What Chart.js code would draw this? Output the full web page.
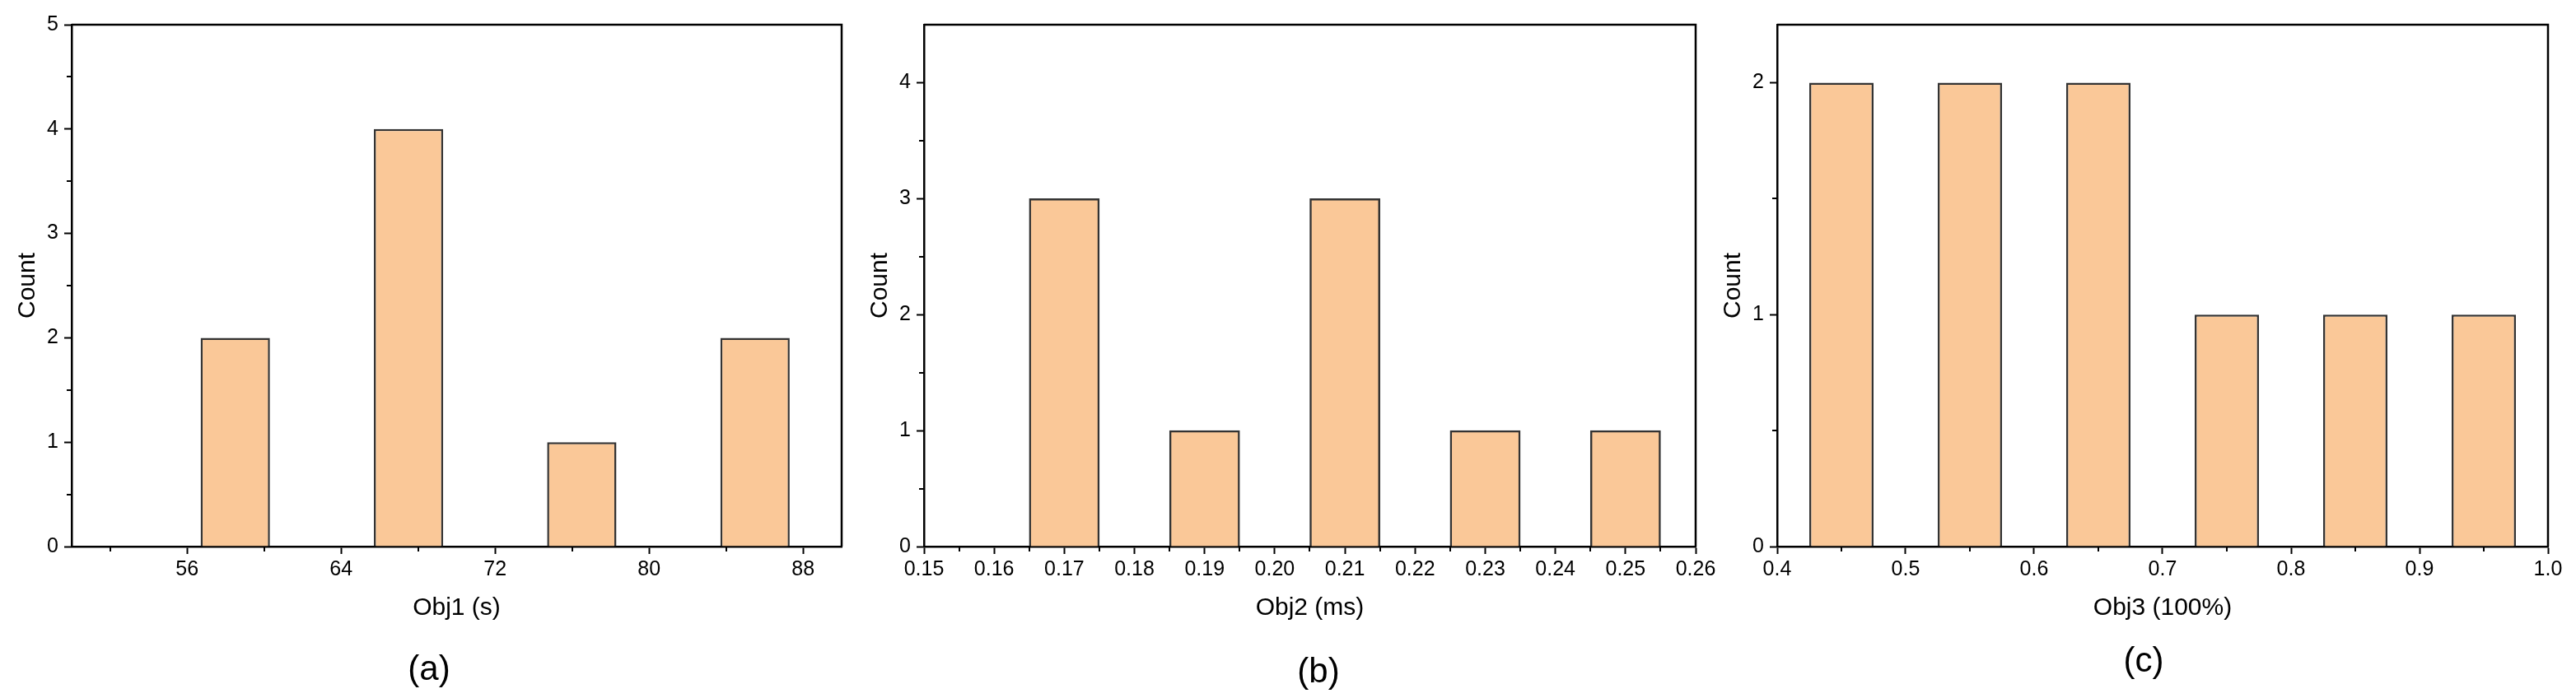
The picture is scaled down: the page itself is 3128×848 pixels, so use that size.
<!DOCTYPE html>
<html>
<head>
<meta charset="utf-8">
<script src="https://cdn.jsdelivr.net/npm/chart.js@4.4.1/dist/chart.umd.min.js"></script>
<style>
    body { margin: 0; background: #fff; width: 3128px; height: 848px; position: relative; overflow: hidden; font-family: "Liberation Sans", Arial, sans-serif; }
    .panel { position: absolute; top: 0; height: 848px; }
    .tag { position: absolute; font-size: 42px; color: #000; transform: translate(-50%, -50%); white-space: nowrap; }
</style>
</head>
<body>
<div class="panel" style="left:0px;width:1040px"><canvas id="chartA"></canvas></div>
<div class="panel" style="left:1035px;width:1064px"><canvas id="chartB"></canvas></div>
<div class="panel" style="left:2071px;width:1057px"><canvas id="chartC"></canvas></div>
<div class="tag" style="left:521px;top:812px">(a)</div>
<div class="tag" style="left:1601px;top:815px">(b)</div>
<div class="tag" style="left:2603px;top:802px">(c)</div>

<script>
// panel (a)
var binsA = [58.5, 67.5, 76.5, 85.5];
var countsA = [2, 4, 1, 2];
var xTicksA = [56, 64, 72, 80, 88];
var xLabelsA = ['56', '64', '72', '80', '88'];
var xMinorA = [52, 60, 68, 76, 84];
var yTicksA = [0, 1, 2, 3, 4, 5];
var yMinorA = [0.5, 1.5, 2.5, 3.5, 4.5];

// panel (b)
var binsB = [0.17, 0.19, 0.21, 0.23, 0.25];
var countsB = [3, 1, 3, 1, 1];
var xTicksB = [0.15, 0.16, 0.17, 0.18, 0.19, 0.20, 0.21, 0.22, 0.23, 0.24, 0.25, 0.26];
var xLabelsB = ['0.15', '0.16', '0.17', '0.18', '0.19', '0.20', '0.21', '0.22', '0.23', '0.24', '0.25', '0.26'];
var xMinorB = [0.155, 0.165, 0.175, 0.185, 0.195, 0.205, 0.215, 0.225, 0.235, 0.245, 0.255];
var yTicksB = [0, 1, 2, 3, 4];
var yMinorB = [0.5, 1.5, 2.5, 3.5];

// panel (c)
var binsC = [0.45, 0.55, 0.65, 0.75, 0.85, 0.95];
var countsC = [2, 2, 2, 1, 1, 1];
var xTicksC = [0.4, 0.5, 0.6, 0.7, 0.8, 0.9, 1.0];
var xLabelsC = ['0.4', '0.5', '0.6', '0.7', '0.8', '0.9', '1.0'];
var xMinorC = [0.45, 0.55, 0.65, 0.75, 0.85, 0.95];
var yTicksC = [0, 1, 2];
var yMinorC = [0.5, 1.5];

Chart.defaults.font.family = '"Liberation Sans", Arial, sans-serif';
Chart.defaults.color = '#000';

// box round the plot + short minor ticks
var framePlugin = {
    id: 'frame',
    afterDraw: function (chart, args, opts) {
        var ctx = chart.ctx, a = chart.chartArea;
        var xs = chart.scales.x, ys = chart.scales.y;
        ctx.save();
        ctx.strokeStyle = '#000';
        ctx.lineWidth = 2.5;
        ctx.beginPath();
        ctx.moveTo(a.left, a.top);
        ctx.lineTo(a.right, a.top);
        ctx.lineTo(a.right, a.bottom);
        ctx.stroke();
        ctx.lineWidth = 2;
        ctx.beginPath();
        opts.xMinor.forEach(function (v) {
            var px = Math.round(xs.getPixelForValue(v));
            ctx.moveTo(px, a.bottom);
            ctx.lineTo(px, a.bottom + 6);
        });
        opts.yMinor.forEach(function (v) {
            var py = Math.round(ys.getPixelForValue(v));
            ctx.moveTo(a.left - 6, py);
            ctx.lineTo(a.left, py);
        });
        ctx.stroke();
        ctx.restore();
    }
};

function makeHist(id, bins, counts, p) {
    var ctx = document.getElementById(id).getContext('2d');
    return new Chart(ctx, {
        type: 'bar',
        data: {
            datasets: [{
                data: bins.map(function (b, i) { return { x: b, y: counts[i] }; }),
                backgroundColor: '#FAC898',
                borderColor: '#333333',
                borderWidth: 2.5,
                categoryPercentage: 1,
                barPercentage: p.barPct
            }]
        },
        options: {
            responsive: true,
            maintainAspectRatio: false,
            animation: false,
            layout: { padding: { top: 30, right: p.padRight, left: 0, bottom: 0 } },
            plugins: {
                legend: { display: false },
                tooltip: { enabled: false },
                frame: { xMinor: p.xMinor, yMinor: p.yMinor }
            },
            scales: {
                x: {
                    type: 'linear',
                    min: p.xMin,
                    max: p.xMax,
                    offset: false,
                    afterBuildTicks: function (scale) {
                        scale.ticks = p.xTicks.map(function (v) { return { value: v }; });
                    },
                    afterFit: function (scale) { scale.height = 184; },
                    ticks: {
                        autoSkip: false,
                        maxRotation: 0,
                        padding: 4,
                        font: { size: 25 },
                        callback: function (v, i) { return p.xLabels[i]; }
                    },
                    grid: { offset: false, drawOnChartArea: false, tickLength: 9, tickWidth: 2, tickColor: '#000' },
                    border: { color: '#000', width: 2.5 },
                    title: { display: true, text: p.xTitle, font: { size: 30 }, padding: { top: 0, bottom: 91 } }
                },
                y: {
                    min: 0,
                    max: p.yMax,
                    afterBuildTicks: function (scale) {
                        scale.ticks = p.yTicks.map(function (v) { return { value: v }; });
                    },
                    afterFit: function (scale) { scale.width = 87; },
                    ticks: { padding: 7, font: { size: 25 } },
                    grid: { drawOnChartArea: false, tickLength: 9, tickWidth: 2, tickColor: '#000' },
                    border: { color: '#000', width: 2.5 },
                    title: { display: true, text: 'Count', font: { size: 30 }, padding: { top: 16, bottom: 0 } }
                }
            }
        },
        plugins: [framePlugin]
    });
}

document.addEventListener('DOMContentLoaded', function () {
    makeHist('chartA', binsA, countsA, {
        xMin: 50, xMax: 90, yMax: 5, barPct: 0.45, padRight: 18,
        xTicks: xTicksA, xLabels: xLabelsA, xMinor: xMinorA,
        yTicks: yTicksA, yMinor: yMinorA, xTitle: 'Obj1 (s)'
    });
    makeHist('chartB', binsB, countsB, {
        xMin: 0.15, xMax: 0.26, yMax: 4.5, barPct: 1.0, padRight: 40,
        xTicks: xTicksB, xLabels: xLabelsB, xMinor: xMinorB,
        yTicks: yTicksB, yMinor: yMinorB, xTitle: 'Obj2 (ms)'
    });
    makeHist('chartC', binsC, countsC, {
        xMin: 0.4, xMax: 1.0, yMax: 2.25, barPct: 0.5, padRight: 34,
        xTicks: xTicksC, xLabels: xLabelsC, xMinor: xMinorC,
        yTicks: yTicksC, yMinor: yMinorC, xTitle: 'Obj3 (100%)'
    });
});
</script>
</body>
</html>
